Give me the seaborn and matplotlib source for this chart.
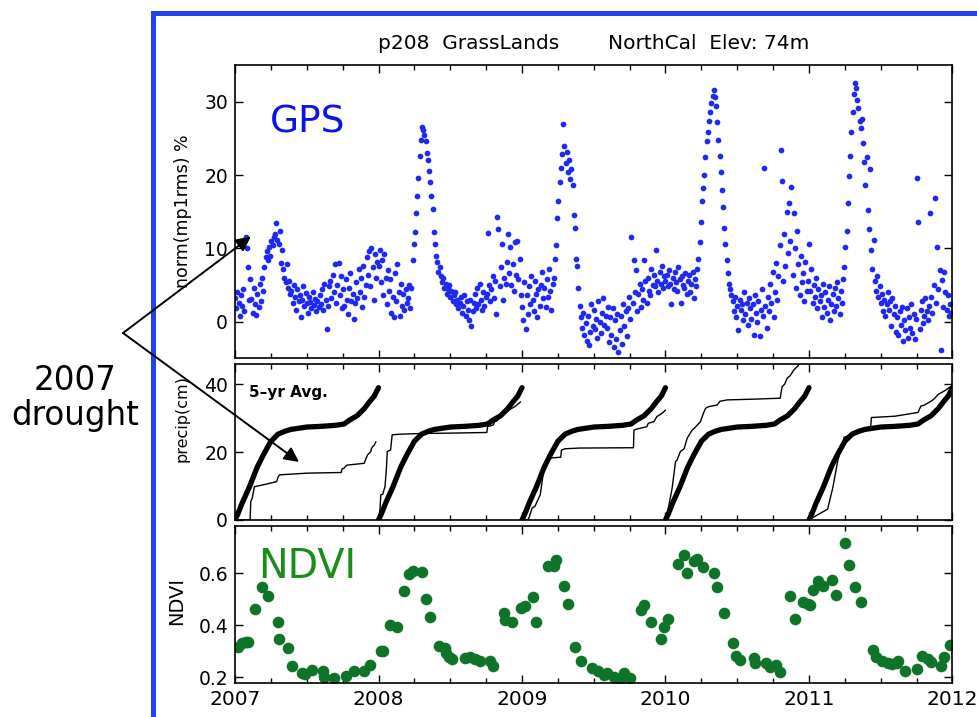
import numpy as np
import pandas as pd
import matplotlib
matplotlib.use("Agg")
import matplotlib.pyplot as plt
import seaborn as sns
from matplotlib.ticker import MultipleLocator
from matplotlib.patches import Rectangle

# GPS reflection metric, ~3-day samples through each calendar year (%)
gps_2007 = [3.2, 1.8, 4.1, 2.5, 0.8, 3.6, 2.2, 4.5, 1.5, 11.5, 10.0, 7.4, 2.9,
            5.8, 3.1, 1.2, 4.6, 2.4, 0.9, 3.8, 2.0,
            5.2, 2.8, 6.0, 4.2, 7.5, 8.8,
            9.6, 8.4, 10.2, 9.0, 11.0, 10.4, 11.6,
            12.0, 13.5, 11.2, 10.6, 12.4, 8.0, 9.8,
            7.2, 6.0, 5.4, 7.8, 4.6, 5.5, 3.8,
            4.2, 2.6, 5.0, 3.4, 1.6, 4.4, 2.8, 3.6, 0.6, 3.0, 4.8, 2.2, 3.9,
            2.5, 1.2, 3.4, 2.7, 1.8, 4.0, 2.3, 3.1, 1.5, 2.8, 2.0,
            3.6, 2.4, 4.5, 1.6, 5.2, 3.0, -1.0, 2.1, 4.8,
            5.6, 3.2, 6.4, 4.0, 7.8, 2.6, 5.0, 8.0, 3.6, 6.2, 1.8,
            4.4, 2.2, 5.8, 3.0, 1.0, 4.6, 6.6, 2.8, 3.8, 0.4,
            2.6, 5.4, 3.2, 7.2, 4.0, 6.0, 2.0, 7.6, 3.4, 5.0,
            8.8, 6.4, 9.6, 4.8, 10.0, 7.4, 3.0, 9.2, 6.0, 8.2]
gps_2008 = [7.6, 9.8, 5.4, 8.4, 3.6, 9.2, 6.0, 2.4, 7.0, 4.2,
            5.8, 1.2, 3.4, 0.6, 6.6, 2.8, 7.8, 4.0, 0.8, 5.2,
            2.2, 3.8, 1.6, 4.4, 2.6, 3.2, 5.0, 1.8, 4.6,
            8.4, 10.6, 12.2, 14.8, 17.2, 19.6, 22.6, 24.8, 26.6,
            26.2, 25.4, 24.6, 23.0, 22.0, 20.6, 19.0, 17.2, 15.4, 12.2, 10.6,
            9.0, 8.2, 6.8, 7.4, 6.2, 5.4, 6.0,
            4.6, 5.2, 3.8, 4.4, 5.0, 3.4, 4.2, 2.8, 3.6, 4.0, 2.4,
            3.0, 1.8, 2.6, 3.4, 1.2, 2.2, 3.6, 0.8, 2.8, 1.6, 0.2, 3.0, -0.6, 1.4,
            2.6, 3.8, 1.8, 4.6, 2.4, 5.2, 3.0, 1.6, 4.0, 2.2, 3.4,
            3.8, 12.1, 5.0, 2.8, 4.4, 6.2, 3.2, 5.6, 1.0, 14.3,
            12.6, 4.8, 7.4, 10.6, 3.0, 6.0, 5.2, 8.2, 11.9, 6.6,
            10.2, 5.0, 7.8, 4.2, 10.8, 6.4, 11.0, 5.8, 8.6, 3.6]
gps_2009 = [2.0, 0.2, 5.4, -1.0, 3.6, 1.0, 4.8, 2.4, 6.2, 3.0,
            1.4, 5.6, 3.8, 0.6, 4.4, 2.2, 5.0, 6.8, 3.2, 4.6,
            2.0, 5.8, 3.4, 7.2, 4.2, 1.6, 5.2,
            6.0, 8.6, 10.4, 14.2, 16.4, 19.0, 21.0, 22.8, 27.0,
            24.0, 21.6, 23.2, 20.4, 22.0, 19.4, 20.8,
            18.6, 14.6, 12.8, 8.6, 7.6, 4.6, 2.2,
            0.6, -0.8, 1.2, -1.8, -0.2, -2.6, 0.8, -3.2, -1.4, 2.4, -0.6,
            1.6, -1.0, 0.4, -2.2, 2.8, 0.0, -1.6, 1.2, 3.2, -0.4, 0.8,
            -0.8, 2.0, -2.8, 0.6, -1.8, 1.8, -3.4, 0.2, -2.4, 1.0,
            -4.2, -1.2, 0.8, -3.0, 2.4, -0.6, 1.4, -2.0,
            1.8, 3.4, 0.4, 11.6, 2.6, 8.4, 4.0, 7.0, 1.4, 3.8, 5.2, 2.0,
            4.4, 3.0, 8.4, 5.6, 2.6, 6.0, 4.2, 3.6, 7.2, 5.0,
            6.4, 4.8, 9.8, 5.6, 4.0, 6.8, 5.2, 7.6, 4.6, 6.2]
gps_2010 = [5.6, 6.4, 4.8, 7.0, 5.2, 2.4, 6.0, 4.4, 6.8, 5.4,
            4.2, 7.4, 5.8, 2.6, 6.2, 5.0, 4.6, 6.6, 3.8, 5.6,
            6.4, 4.0, 5.2, 6.8, 3.2, 5.8, 4.8, 7.2,
            8.6, 10.8, 13.6, 16.4, 18.2, 20.0, 22.4, 24.6, 25.8, 27.4, 28.6, 29.8, 30.8, 31.6,
            30.6, 29.4, 27.2, 24.8, 22.6, 20.4, 18.0, 15.6, 12.8,
            10.6, 8.4, 6.6, 5.2, 4.4, 3.6,
            2.8, 1.4, 3.4, 0.6, 2.2, -1.2, 3.0, 1.6, 2.4, 0.2, 4.0, 1.0, 2.6, -0.4, 3.2,
            1.8, 0.4, 2.4, -1.8, 3.6, 1.2, 0.0, 2.8, -2.0, 1.6, 4.4, 0.8, 21.0, 2.2, -0.8,
            3.4, 1.4, 5.2, 2.6, 6.8, 0.6, 4.0, 8.0, 3.0, 6.2,
            10.4, 23.4, 19.2, 5.6, 12.0, 7.6, 15.0, 9.4, 16.2, 11.0,
            18.4, 6.4, 14.8, 10.0, 4.6, 12.4, 7.8, 3.6, 9.0, 5.4,
            6.6, 2.8, 8.2, 4.2, 5.6]
gps_2011 = [10.6, 4.2, 7.2, 2.6, 5.0, 3.4, 6.0, 1.8, 4.4, 2.8,
            3.6, 0.6, 5.2, 2.0, 4.0, 1.2, 3.0, 4.8, 0.2, 2.4,
            3.8, 1.4, 4.6, 2.2, 5.4, 3.2, 1.0, 4.2, 2.6, 5.8,
            7.4, 10.2, 12.4, 16.2, 19.8, 22.6, 25.8, 28.6, 31.0,
            32.5, 31.8, 30.2,
            29.2, 27.4, 26.4, 27.6, 24.4, 21.8, 18.6, 22.4, 15.2, 12.6, 20.8,
            9.8, 7.2, 11.2, 5.6, 4.2, 6.2, 3.4, 4.8,
            2.6, 3.8, 1.4, 3.0, 0.8, 2.4, 4.0, 1.6, 2.8, -0.6, 3.2, 1.0, 2.2, -1.4, 0.6,
            -1.8, 1.4, -0.4, 2.0, -2.6, 0.2, -1.2, 1.8, -2.2, 0.6, -0.8, 2.4, -1.6, 1.0, -2.4,
            0.4, 19.6, 13.6, -1.0, 1.6, 2.8, -0.2, 0.8, 3.2, 1.4, 0.2,
            2.2, 14.8, 3.4, 1.2, 5.0, 16.9, 2.6, 10.2, 4.4, 7.0,
            -3.9, 5.7, 2.0, 6.8, 4.0, 1.6, 3.6, 0.8, 2.4, 1.2]

# cumulative precipitation (cm): 5-yr average and each year's own curve
avg_frac = [0, 0.02, 0.05, 0.1, 0.155, 0.2, 0.25, 0.3, 0.35, 0.39, 0.5, 0.6,
            0.7, 0.76, 0.8, 0.85, 0.9, 0.94, 0.97, 1.0]
avg_cm = [0, 1.8, 5.0, 9.7, 15.6, 19.4, 23.2, 25.3, 26.2, 26.7, 27.4, 27.6,
          27.9, 28.3, 29.5, 30.7, 32.8, 35.0, 36.5, 39.0]

frac_2007 = [0, 0.105, 0.11, 0.12, 0.135, 0.2, 0.29, 0.30, 0.31, 0.5, 0.74, 0.745,
             0.76, 0.775, 0.785, 0.9, 0.91, 0.924, 0.947, 0.95, 0.959, 0.97, 0.982]
cm_2007 = [0, 0, 5.5, 6.4, 9.8, 10.4, 11.3, 12.6, 13.3, 13.8, 14.0, 15.0,
           15.3, 16.0, 16.2, 16.7, 17.8, 19.2, 20.2, 21.0, 21.6, 22.0, 23.1]
frac_2008 = [0, 0.01, 0.016, 0.03, 0.035, 0.045, 0.055, 0.061, 0.084, 0.09, 0.095, 0.155,
             0.3, 0.5, 0.755, 0.76, 0.8, 0.81, 0.826, 0.85, 0.88, 0.92, 0.95, 0.99]
cm_2008 = [0, 3.0, 7.4, 7.6, 8.4, 9.8, 15.0, 20.2, 20.6, 23.0, 25.1, 25.3,
           25.5, 25.6, 25.8, 27.5, 28.0, 29.0, 29.2, 31.0, 31.5, 32.7, 33.4, 34.8]
frac_2009 = [0, 0.04, 0.05, 0.07, 0.09, 0.105, 0.127, 0.15, 0.176, 0.27, 0.275,
             0.3, 0.4, 0.777, 0.78, 0.8, 0.87, 0.88, 0.92, 0.94, 0.975, 1.0]
cm_2009 = [0, 0, 0.8, 3.5, 4.0, 5.4, 7.4, 14.3, 18.2, 18.5, 20.6,
           21.0, 21.2, 21.3, 26.5, 26.8, 27.5, 28.5, 29.0, 30.5, 31.4, 32.4]
frac_2010 = [0, 0.02, 0.046, 0.07, 0.08, 0.104, 0.13, 0.151, 0.186, 0.2, 0.244, 0.26,
             0.279, 0.3, 0.36, 0.38, 0.43, 0.6, 0.8, 0.805, 0.813, 0.83, 0.848, 0.87,
             0.894, 0.928, 0.96]
cm_2010 = [0, 3.5, 9.3, 17.2, 17.6, 20.2, 21.0, 24.1, 26.5, 27.0, 29.0, 31.0,
           32.9, 33.4, 33.9, 35.0, 35.4, 35.6, 35.9, 37.5, 39.3, 40.0, 41.8, 42.6,
           44.2, 45.7, 47.5]
frac_2011 = [0, 0.035, 0.13, 0.167, 0.2, 0.22, 0.245, 0.3, 0.34, 0.43, 0.435, 0.6,
             0.76, 0.78, 0.8, 0.85, 0.87, 0.9, 0.95, 0.99]
cm_2011 = [0, 0.9, 3.2, 9.7, 17.4, 20.3, 24.4, 25.2, 25.9, 27.6, 30.2, 30.6,
           31.7, 33.6, 33.8, 35.0, 35.6, 37.0, 38.2, 39.4]

# NDVI composites
ndvi_time = [2007.02, 2007.05, 2007.08, 2007.09, 2007.14, 2007.19, 2007.23, 2007.30, 2007.31,
             2007.37, 2007.40, 2007.47, 2007.49, 2007.54, 2007.61, 2007.62, 2007.69, 2007.77,
             2007.83, 2007.90, 2007.94,
             2008.02, 2008.03, 2008.08, 2008.13, 2008.18, 2008.21, 2008.24, 2008.30, 2008.33,
             2008.36, 2008.42, 2008.46, 2008.47, 2008.49, 2008.51, 2008.60, 2008.64, 2008.67,
             2008.71, 2008.78, 2008.80, 2008.875, 2008.88, 2008.93, 2008.99,
             2009.02, 2009.08, 2009.10, 2009.18, 2009.22, 2009.24, 2009.29, 2009.32, 2009.37,
             2009.41, 2009.49, 2009.53, 2009.57, 2009.59, 2009.64, 2009.68, 2009.71, 2009.75,
             2009.83, 2009.85, 2009.90, 2009.97, 2009.99,
             2010.02, 2010.09, 2010.13, 2010.15, 2010.20, 2010.22, 2010.26, 2010.34, 2010.36,
             2010.41, 2010.47, 2010.49, 2010.52, 2010.62, 2010.625, 2010.70, 2010.73, 2010.77,
             2010.80, 2010.87, 2010.90, 2010.96, 2010.99,
             2011.01, 2011.03, 2011.06, 2011.10, 2011.16, 2011.19, 2011.25, 2011.28, 2011.32,
             2011.36, 2011.445, 2011.47, 2011.51, 2011.55, 2011.58, 2011.61, 2011.62, 2011.67,
             2011.75, 2011.79, 2011.83, 2011.85, 2011.92, 2011.94, 2011.98]
ndvi_value = [0.315, 0.33, 0.335, 0.335, 0.463, 0.546, 0.511, 0.413, 0.345,
              0.311, 0.243, 0.217, 0.21, 0.228, 0.222, 0.2, 0.196, 0.205,
              0.225, 0.222, 0.248,
              0.302, 0.30, 0.40, 0.394, 0.531, 0.596, 0.61, 0.604, 0.502,
              0.433, 0.319, 0.31, 0.293, 0.277, 0.27, 0.274, 0.277, 0.27,
              0.26, 0.263, 0.243, 0.446, 0.42, 0.413, 0.466,
              0.472, 0.507, 0.413, 0.629, 0.629, 0.65, 0.55, 0.48, 0.315,
              0.26, 0.233, 0.222, 0.209, 0.217, 0.2, 0.193, 0.214, 0.196,
              0.459, 0.478, 0.413, 0.348, 0.393,
              0.424, 0.635, 0.671, 0.6, 0.646, 0.655, 0.625, 0.599, 0.546,
              0.446, 0.331, 0.28, 0.267, 0.272, 0.256, 0.256, 0.237, 0.246,
              0.218, 0.511, 0.424, 0.488, 0.482,
              0.478, 0.537, 0.57, 0.55, 0.572, 0.518, 0.718, 0.633, 0.546,
              0.489, 0.306, 0.276, 0.263, 0.256, 0.25, 0.256, 0.26, 0.222,
              0.232, 0.28, 0.27, 0.259, 0.241, 0.276, 0.325]

years = [2007, 2008, 2009, 2010, 2011]
year_labels = ['2007', '2008', '2009', '2010', '2011', '2012']

GPS_BLUE = '#1e2af2'
NDVI_GREEN = '#0d7428'

# build tables
gps_parts = []
for yr, vals in zip(years, [gps_2007, gps_2008, gps_2009, gps_2010, gps_2011]):
    n = len(vals)
    gps_parts.append(pd.DataFrame({'t': yr + np.arange(n) / n, 'v': vals}))
gps_df = pd.concat(gps_parts, ignore_index=True)

avg_df = pd.concat([pd.DataFrame({'t': yr + np.array(avg_frac), 'cm': avg_cm, 'yr': yr})
                    for yr in years], ignore_index=True)
thin_df = pd.concat([pd.DataFrame({'t': yr + np.array(f), 'cm': c, 'yr': yr})
                     for yr, f, c in zip(years,
                                         [frac_2007, frac_2008, frac_2009, frac_2010, frac_2011],
                                         [cm_2007, cm_2008, cm_2009, cm_2010, cm_2011])],
                    ignore_index=True)
ndvi_df = pd.DataFrame({'t': ndvi_time, 'ndvi': ndvi_value})

# plot
sns.set_style("ticks")
plt.rcParams['font.family'] = ['DejaVu Sans']
plt.rcParams.update({'text.color': 'black', 'axes.labelcolor': 'black',
                     'xtick.color': 'black', 'ytick.color': 'black'})

fig = plt.figure(figsize=(9.78, 7.17), dpi=100)
ax1 = fig.add_axes([0.2403, 0.5007, 0.7336, 0.4086])
ax2 = fig.add_axes([0.2403, 0.2748, 0.7336, 0.2176])
ax3 = fig.add_axes([0.2403, 0.0474, 0.7336, 0.2190])

# blue slide frame
fig.add_artist(Rectangle((153 / 978, -0.05), 1.0, 1 - 13 / 717 + 0.05,
                         transform=fig.transFigure, fill=False,
                         ec='#2340f2', lw=3.6, zorder=0))

sns.scatterplot(data=gps_df, x='t', y='v', ax=ax1, s=17, color=GPS_BLUE,
                linewidth=0, legend=False)

sns.lineplot(data=avg_df, x='t', y='cm', units='yr', estimator=None, sort=False,
             color='black', lw=3.8, ax=ax2, legend=False)
sns.lineplot(data=thin_df, x='t', y='cm', units='yr', estimator=None, sort=False,
             color='black', lw=1.0, ax=ax2, legend=False)

sns.scatterplot(data=ndvi_df, x='t', y='ndvi', ax=ax3, s=70, color=NDVI_GREEN,
                linewidth=0, legend=False)


def style_axis(ax, yticks, ylim, show_x):
    ax.set_xlim(2007, 2012)
    ax.set_ylim(*ylim)
    ax.set_yticks(yticks)
    ax.set_xticks(range(2007, 2013))
    ax.set_xticklabels(year_labels)
    ax.xaxis.set_minor_locator(MultipleLocator(0.25))
    ax.tick_params(which='both', direction='in', top=True, right=True,
                   width=1.0, color='black', labelcolor='black')
    ax.tick_params(which='major', length=6)
    ax.tick_params(which='minor', length=3.5)
    ax.tick_params(axis='y', labelsize=13.5, pad=5)
    ax.tick_params(axis='x', labelsize=14.5, pad=5, labelbottom=show_x)
    ax.set_xlabel('')
    for s in ax.spines.values():
        s.set_linewidth(1.2)
        s.set_color('black')


style_axis(ax1, [0, 10, 20, 30], (-4.95, 35), False)
style_axis(ax2, [0, 20, 40], (0, 46), False)
style_axis(ax3, [0.2, 0.4, 0.6], (0.177, 0.782), True)
ax3.set_yticklabels(['0.2', '0.4', '0.6'])

ax1.set_ylabel('norm(mp1rms) %', fontsize=12.5, color='black')
ax1.yaxis.set_label_coords(-0.06, 0.5)
ax2.set_ylabel('precip(cm)', fontsize=11.5, color='black')
ax2.yaxis.set_label_coords(-0.063, 0.65)
ax3.set_ylabel('NDVI', fontsize=14, color='black')
ax3.yaxis.set_label_coords(-0.068, 0.52)

ax1.text(0.049, 0.771, 'GPS', transform=ax1.transAxes, color='#0c12ea',
         fontsize=27, ha='left', va='baseline')
ax3.text(0.032, 0.669, 'NDVI', transform=ax3.transAxes, color='#1a8c1a',
         fontsize=28.5, ha='left', va='baseline')
ax2.text(0.0195, 0.788, '5\u2013yr Avg.', transform=ax2.transAxes, color='black',
         fontsize=11, fontweight='bold', ha='left', va='baseline')

fig.text(378 / 978, 1 - 49 / 717, 'p208  GrassLands', fontsize=14.5,
         ha='left', va='baseline', color='black')
fig.text(608 / 978, 1 - 49 / 717, 'NorthCal  Elev: 74m', fontsize=14.5,
         ha='left', va='baseline', color='black')

# drought annotation
fig.text(75 / 978, 1 - 398 / 717, '2007\ndrought', fontsize=23.5, color='black',
         ha='center', va='center', linespacing=1.05)
start = (123 / 978, 1 - 333 / 717)
arrow = dict(arrowstyle='-|>', color='black', lw=1.4, mutation_scale=22,
             shrinkA=0, shrinkB=0)
ax2.annotate('', xy=(2007.11, 11.6), xycoords=ax1.transData,
             xytext=start, textcoords='figure fraction',
             arrowprops=arrow, annotation_clip=False)
ax2.annotate('', xy=(2007.446, 17.1), xycoords='data',
             xytext=start, textcoords='figure fraction',
             arrowprops=arrow, annotation_clip=False)

fig.savefig('out.png', dpi=100)
